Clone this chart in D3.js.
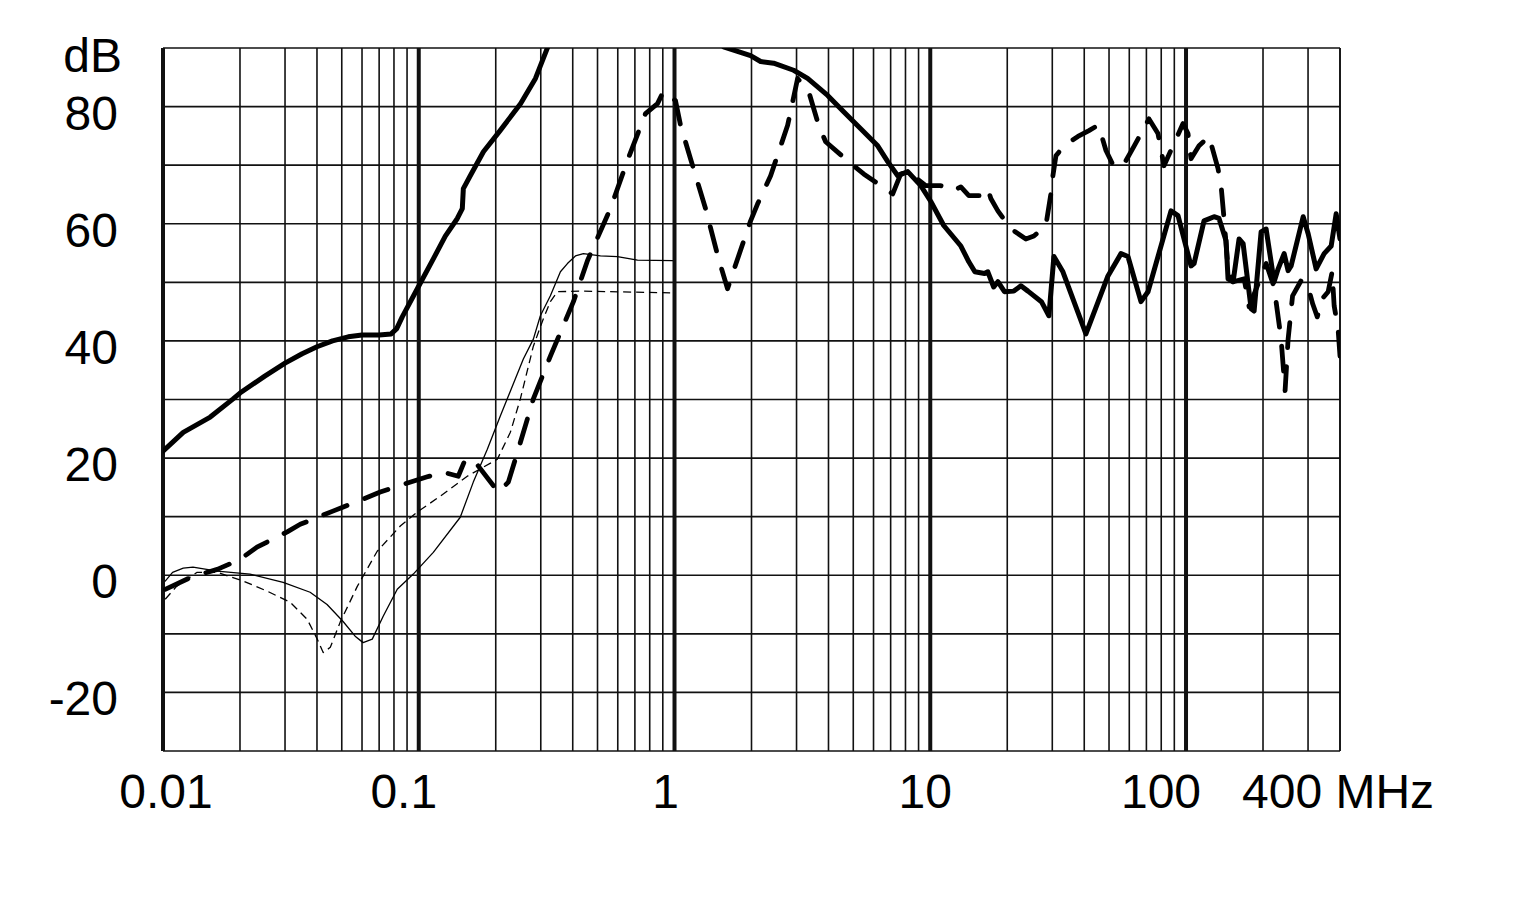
<!DOCTYPE html>
<html><head><meta charset="utf-8">
<script src="https://cdn.jsdelivr.net/npm/d3@7"></script>
<style>body{margin:0;background:#fff}svg{display:block}</style>
</head><body><svg id="c" width="1513" height="920"></svg>
<script>
// ---- data ----
const xTickValues = [0.01, 0.1, 1, 10, 100, 400];
const xTickLabels = ["0.01", "0.1", "1", "10", "100", "400 MHz"];
const yTickValues = [-20, 0, 20, 40, 60, 80];
const yUnitLabel = "dB";

// [frequency MHz, level dB]
const solidThick = [
  [0.01,21.2],[0.012,24.4],[0.0153,27.0],[0.0188,30.1],[0.02,31.1],[0.025,34.0],[0.03,36.2],
  [0.035,37.8],[0.04,39.0],[0.046,40.0],[0.053,40.7],[0.06,41.0],[0.07,41.0],[0.078,41.2],
  [0.082,42.1],[0.0862,44.1],[0.0987,48.9],[0.114,54.0],[0.127,57.9],[0.1415,60.9],
  [0.148,62.6],[0.1494,66.0],[0.159,68.2],[0.179,72.3],[0.208,75.9],[0.25,80.5],
  [0.286,84.8],[0.321,90.4],[0.34,93],[1.4,93],
  [1.555,90.2],[1.984,88.7],[2.171,87.7],[2.441,87.4],[2.922,86.2],[3.315,84.8],[3.97,81.9],
  [4.586,79.1],[5.346,76.2],[6.23,73.3],[6.819,70.6],[7.462,68.2],[8.166,68.9],[9.18,66.5],
  [10.05,63.8],[11.29,59.7],[13.17,56.2],[14.15,53.5],[14.94,51.8],[16.3,51.5],[16.79,51.8],
  [17.7,49.2],[18.38,50.1],[19.5,48.4],[21.22,48.5],[22.61,49.4],[24.1,48.5],[27.2,46.7],
  [29.1,44.3],[30.44,54.4],[33.01,51.8],[40.61,41.2],[49.52,51.1],[55.68,54.9],[59.29,54.4],
  [66.66,46.7],[71.01,48.4],[87.36,62.2],[93.04,61.4],[104.6,52.8],[107.5,53.2],[117.6,60.5],
  [128.7,61.2],[134.6,60.9],[143.4,57.1],[146.0,50.6],[152.8,50.1],[161.2,57.4],[167.2,56.6],
  [179.7,45.5],[184.6,45.1],[196.6,58.6],[205.7,59.1],[221.0,50.1],[229.2,52.3],[241.9,54.9],
  [250.7,52.0],[257.6,52.8],[287.1,61.2],[300.3,58.3],[322.7,52.3],[346.8,54.9],[369.4,56.2],
  [386.4,61.7],[400,57.4]
];

const dashedThick = [
  [0.0102,-2.4],[0.0131,-0.2],[0.0163,1.0],[0.02,2.7],[0.0233,4.8],[0.0306,7.4],[0.0344,8.7],
  [0.0459,10.9],[0.0539,12.1],[0.0707,14.2],[0.0824,15.2],[0.108,16.8],[0.1247,17.6],
  [0.1427,16.9],[0.1521,19.8],[0.1664,19.3],[0.2048,14.2],[0.224,15.9],[0.2451,21.5],
  [0.2806,30.1],[0.3271,37.4],[0.4025,46.7],[0.4566,53.7],[0.5617,62.6],[0.6546,70.8],
  [0.77,78.8],[0.8581,80.5],[0.9055,82.6],[1.009,81.0],[1.056,76.8],[1.155,71.1],[1.322,62.6],
  [1.487,54.0],[1.612,48.9],[1.702,52.0],[1.984,60.5],[2.113,63.4],[2.376,68.2],[2.769,76.8],
  [3.029,84.8],[3.345,82.6],[3.661,76.8],[3.899,74.0],[4.884,70.3],[5.492,68.5],[7.133,65.1],
  [7.667,68.5],[8.166,68.9],[9.603,66.5],[10.99,66.5],[12.25,65.6],[13.17,66.3],[14.15,64.8],
  [15.77,64.8],[16.79,66.0],[17.25,64.3],[18.38,62.2],[19.75,60.3],[21.22,58.8],[23.65,57.4],
  [25.42,57.9],[28.32,59.7],[29.62,65.1],[30.17,68.2],[31.0,71.6],[33.31,73.3],[37.79,74.9],
  [41.73,75.9],[45.26,76.8],[46.5,75.4],[48.64,72.5],[52.27,69.7],[55.68,69.9],[58.25,70.8],
  [62.59,73.2],[71.65,77.9],[77.69,75.4],[82.01,69.9],[88.94,73.3],[97.34,77.1],[101.8,75.4],
  [104.6,71.1],[112.4,73.3],[123.0,74.9],[133.4,69.4],[137.1,66.5],[140.8,60.9],[146.0,52.3],
  [152.8,50.1],[168.8,50.6],[176.5,45.8],[205.7,53.2],[221.0,49.2],[235.4,40.3],[244.0,31.5],
  [250.7,40.3],[261.0,47.7],[281.8,50.3],[298.0,49.7],[313.0,46.3],[326.0,44.1],[341.0,47.2],
  [359.5,48.4],[372.7,51.8],[379.5,46.0],[393.0,42.1],[400,37.4]
];

const solidThin = [
  [0.0102,-1.0],[0.0109,0.5],[0.012,1.2],[0.0131,1.4],[0.0163,0.7],[0.0219,0.2],[0.0295,-1.2],
  [0.0376,-2.9],[0.0438,-5.0],[0.0506,-7.9],[0.0564,-10.4],[0.0606,-11.5],[0.0658,-10.9],
  [0.0726,-7.0],[0.0824,-2.4],[0.0952,0.2],[0.114,3.9],[0.1453,9.9],[0.1634,15.9],
  [0.1854,21.5],[0.2084,27.2],[0.2564,36.9],[0.2806,40.3],[0.2989,44.3],[0.3271,47.7],
  [0.358,51.8],[0.3813,53.2],[0.4098,54.5],[0.4403,54.9],[0.5133,54.5],[0.5983,54.4],
  [0.7166,53.8],[0.9821,53.7]
];

const dashedThin = [
  [0.0102,-4.1],[0.0113,-1.9],[0.0136,0.5],[0.0163,0.5],[0.0206,-1.0],[0.0255,-2.7],
  [0.0314,-4.6],[0.0366,-7.5],[0.0401,-10.9],[0.0423,-13.2],[0.0451,-12.3],[0.0493,-8.0],
  [0.0575,-1.9],[0.0688,4.1],[0.0847,8.4],[0.0987,10.8],[0.1214,13.5],[0.1548,16.9],
  [0.2029,19.8],[0.2281,24.4],[0.2496,30.1],[0.2806,39.1],[0.3071,43.8],[0.3271,46.7],
  [0.3485,48.4],[0.4403,48.5],[0.9645,48.2]
];

// ---- layout ----
const L = 163, R = 1340, T = 48, B = 751;
const svg = d3.select("#c");
const x = d3.scaleLog().domain([0.01, 400]).range([L, R]);
const y = d3.scaleLinear().domain([-30, 90]).range([B, T]);
const font = "'Liberation Sans', Arial, sans-serif";
const fs = 48;

// grid: horizontal every 10 dB
const hVals = d3.range(-30, 91, 10);
svg.append("g").selectAll("line").data(hVals).join("line")
  .attr("x1", L).attr("x2", R)
  .attr("y1", d => y(d)).attr("y2", d => y(d))
  .attr("stroke", "#111").attr("stroke-width", 1.6);

// grid: vertical log lines
const vVals = [];
for (let e = -2; e <= 2; e++) for (let k = 1; k <= 9; k++) {
  const v = k * Math.pow(10, e);
  if (v >= 0.01 && v <= 400) vVals.push(v);
}
vVals.push(400);
svg.append("g").selectAll("line").data(vVals).join("line")
  .attr("x1", d => x(d)).attr("x2", d => x(d))
  .attr("y1", T).attr("y2", B)
  .attr("stroke", "#111")
  .attr("stroke-width", d => {
    const l = Math.log10(d);
    return Math.abs(l - Math.round(l)) < 1e-9 && d <= 100 ? 4 : 1.6;
  });

// clip
svg.append("clipPath").attr("id", "pc").append("rect")
  .attr("x", L).attr("y", T).attr("width", R - L).attr("height", B - T);

const line = d3.line().x(d => x(d[0])).y(d => y(d[1])).curve(d3.curveLinear);
const g = svg.append("g").attr("clip-path", "url(#pc)");
const series = [
  {d: solidThin, w: 1.3, dash: null, cap: "round"},
  {d: dashedThin, w: 1.3, dash: "8,5", cap: "butt"},
  {d: dashedThick, w: 4.8, dash: "25,19", cap: "round"},
  {d: solidThick, w: 5, dash: null, cap: "round"}
];
series.forEach(s => {
  g.append("path").datum(s.d).attr("d", line)
    .attr("fill", "none").attr("stroke", "#000")
    .attr("stroke-width", s.w)
    .attr("stroke-linejoin", "round")
    .attr("stroke-linecap", s.cap)
    .attr("stroke-dasharray", s.dash);
});

// y labels
svg.append("g").selectAll("text").data(yTickValues).join("text")
  .attr("x", 118).attr("y", d => y(d) + 23)
  .attr("text-anchor", "end")
  .attr("font-family", font).attr("font-size", fs).attr("fill", "#000")
  .text(d => d);
svg.append("text").attr("x", 122).attr("y", 72).attr("text-anchor", "end")
  .attr("font-family", font).attr("font-size", fs).text(yUnitLabel);

// x labels
const xLabelDx = [3, -15, -9, -5, -25, -98];
svg.append("g").selectAll("text").data(xTickValues).join("text")
  .attr("x", (d, i) => x(d) + xLabelDx[i])
  .attr("y", 808)
  .attr("text-anchor", (d, i) => i === xTickValues.length - 1 ? "start" : "middle")
  .attr("font-family", font).attr("font-size", fs).attr("fill", "#000")
  .text((d, i) => xTickLabels[i]);
</script></body></html>
